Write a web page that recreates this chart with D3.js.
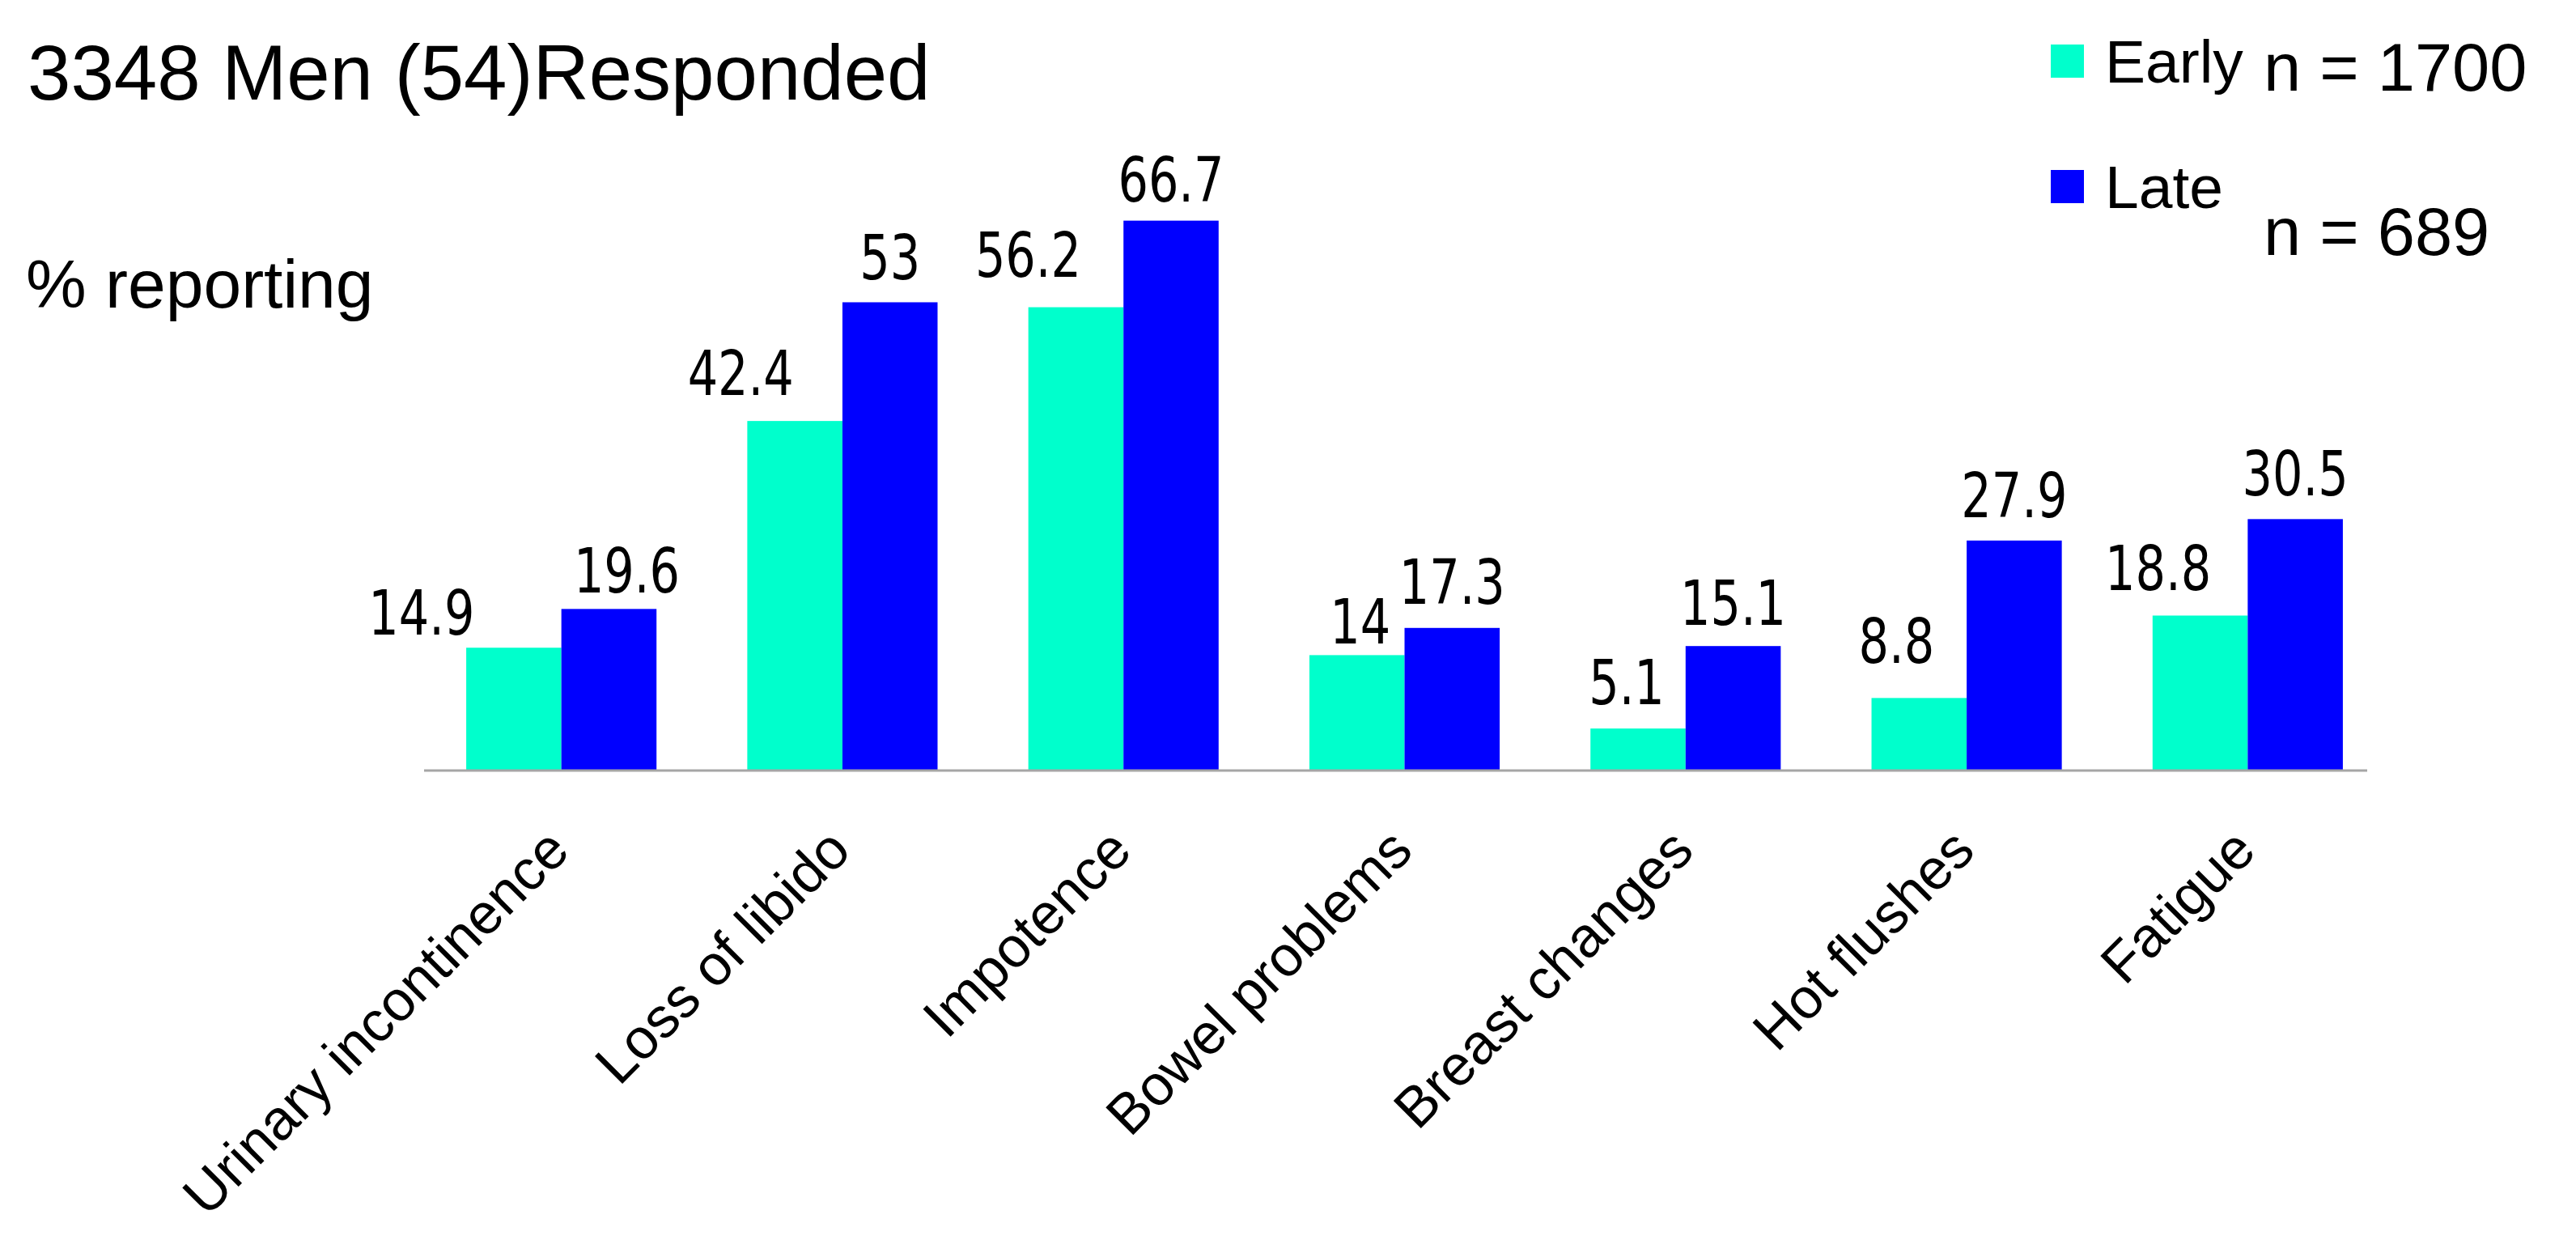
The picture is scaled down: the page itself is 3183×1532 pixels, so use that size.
<!DOCTYPE html>
<html>
<head>
<meta charset="utf-8">
<script src="https://cdn.jsdelivr.net/npm/d3@7"></script>
<style>
  body { margin: 0; background: #fff; }
  text { font-family: "Liberation Sans", Arial, sans-serif; fill: #000; }
  .val { font-family: "DejaVu Sans Condensed", "Liberation Sans Narrow", sans-serif; }
</style>
</head>
<body>
<div id="chart"></div>
<script>
// data
const categories = ["Urinary incontinence", "Loss of libido", "Impotence", "Bowel problems",
                    "Breast changes", "Hot flushes", "Fatigue"];
const series = ["Early", "Late"];
const early = [14.9, 42.4, 56.2, 14, 5.1, 8.8, 18.8];
// the "Loss of libido" late bar is drawn taller than its "53" label in the original
const late = [19.6, 56.8, 66.7, 17.3, 15.1, 27.9, 30.5];
const earlyLabels = ["14.9", "42.4", "56.2", "14", "5.1", "8.8", "18.8"];
const lateLabels = ["19.6", "53", "66.7", "17.3", "15.1", "27.9", "30.5"];
const sampleSizes = ["n = 1700", "n = 689"];

const width = 3183, height = 1532;

const svg = d3.select("#chart")
    .append("svg")
    .attr("width", width)
    .attr("height", height);

const color = d3.scaleOrdinal()
    .domain(series)
    .range(["#00ffcc", "#0000ff"]);

// Scales
const x = d3.scaleBand()
    .domain(categories)
    .range([520, 2951])
    .paddingInner(0.323)
    .paddingOuter(0.1615);

const x1 = d3.scaleBand()
    .domain(series)
    .range([0, x.bandwidth()]);

const y = d3.scaleLinear()
    .domain([0, 70])
    .range([952, 239]);

const rows = [];
categories.forEach((c, i) => {
    rows.push({ cat: c, s: "Early", v: early[i], label: earlyLabels[i], i: i });
    rows.push({ cat: c, s: "Late", v: late[i], label: lateLabels[i], i: i });
});

// Bars
svg.append("g")
    .selectAll("rect")
    .data(rows)
    .enter()
    .append("rect")
    .attr("x", d => x(d.cat) + x1(d.s))
    .attr("y", d => y(d.v))
    .attr("width", x1.bandwidth())
    .attr("height", d => y(0) - y(d.v))
    .attr("fill", d => color(d.s));

// Baseline
svg.append("line")
    .attr("x1", x.range()[0] + 4)
    .attr("x2", x.range()[1] - 26)
    .attr("y1", y(0))
    .attr("y2", y(0))
    .attr("stroke", "#a6a6a6")
    .attr("stroke-width", 3);

// Value labels were nudged by hand in the original, keep those shifts
const nudgeX = { Early: [-114, -67, -59, 4, -14, -28, -52], Late: [22, 0, 0, 0, 0, 0, 0] };
const nudgeY = { Early: [16, 32, 38, 14, 30, 43, 32], Late: [20, 28, 24, 30, 26, 29, 29] };

// narrow face: condensed font squeezed a bit more
svg.append("g")
    .selectAll("text")
    .data(rows)
    .enter()
    .append("text")
    .attr("class", "val")
    .attr("transform", d => {
        const cx = x(d.cat) + x1(d.s) + x1.bandwidth() / 2 + nudgeX[d.s][d.i];
        const cy = y(d.v) - nudgeY[d.s][d.i];
        return `translate(${cx},${cy}) scale(0.85,1)`;
    })
    .attr("text-anchor", "middle")
    .style("font-size", "77px")
    .text(d => d.label);

// Category labels, rotated
svg.append("g")
    .selectAll("text")
    .data(categories)
    .enter()
    .append("text")
    .attr("transform", d => `translate(${x(d) + x.bandwidth() / 2 + 13},${y(0) + 102}) rotate(-45)`)
    .attr("text-anchor", "end")
    .style("font-size", "70px")
    .text(d => d);

// Title and axis caption
svg.append("text")
    .attr("x", 34)
    .attr("y", 123)
    .style("font-size", "96px")
    .text("3348 Men (54)Responded");

svg.append("text")
    .attr("x", 32)
    .attr("y", 380)
    .style("font-size", "84px")
    .text("% reporting");

// Legend
const legend = svg.append("g")
    .attr("transform", "translate(2534, 55)");

series.forEach((s, i) => {
    legend.append("rect")
        .attr("x", 0)
        .attr("y", i * 155)
        .attr("width", 41)
        .attr("height", 41)
        .attr("fill", color(s));

    legend.append("text")
        .attr("x", 67)
        .attr("y", i * 155 + 47)
        .style("font-size", "75px")
        .text(s);

    legend.append("text")
        .attr("x", 263)
        .attr("y", i * 203 + 57)
        .style("font-size", "83px")
        .text(sampleSizes[i]);
});
</script>
</body>
</html>
